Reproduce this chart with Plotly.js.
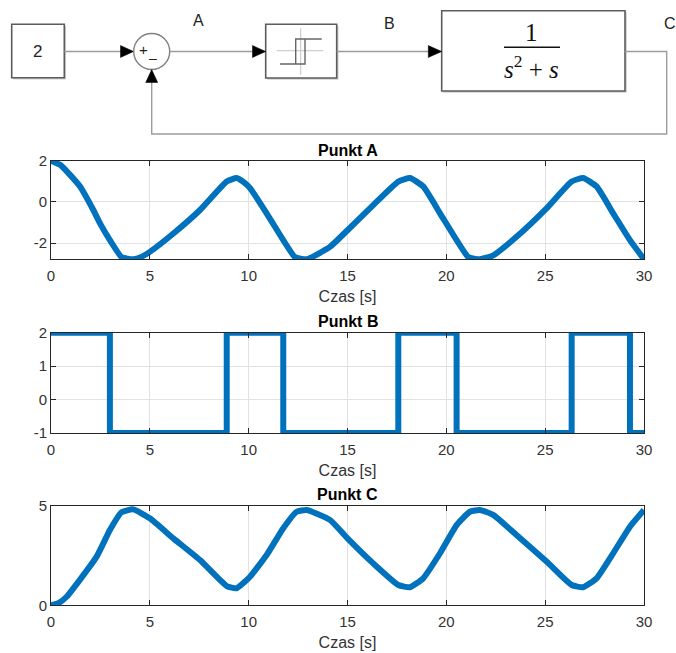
<!DOCTYPE html>
<html>
<head>
<meta charset="utf-8">
<script src="https://cdn.plot.ly/plotly-3.0.1.min.js"></script>
<style>
  html, body { margin: 0; padding: 0; background: #fff; }
  #chart { width: 676px; height: 653px; }
</style>
</head>
<body>
<div id="chart"></div>
<script>
// Simulation of a relay (hysteresis) loop with plant 1/(s^2+s); set-point 2.

// Punkt A: error signal
const timeA = [0, 0.46, 0.88, 1.47, 2.14, 2.48, 2.98, 3.57, 4.16, 4.6, 5.0, 6.19, 7.54, 8.89, 9.39, 9.81,
  10.07, 10.91, 11.75, 12.34, 12.93, 14.11, 15.0, 16.30, 17.57, 18.16, 18.83, 19.68, 20.52, 21.11, 21.70,
  22.37, 23.55, 25.07, 26.34, 26.92, 27.60, 28.44, 29.29, 30];
const valuesA = [2.0, 1.80, 1.40, 0.75, -0.39, -1.04, -1.85, -2.67, -2.78, -2.65, -2.42, -1.53, -0.39, 0.99, 1.16, 0.91,
  0.67, -0.55, -1.85, -2.67, -2.78, -2.18, -1.37, -0.15, 0.99, 1.16, 0.75, -0.55, -1.85, -2.67, -2.78,
  -2.59, -1.69, -0.31, 0.99, 1.16, 0.75, -0.55, -1.85, -2.78];

// Punkt B: relay output
const timeB = [0, 2.98, 2.98, 8.89, 8.89, 11.75, 11.75, 17.57, 17.57, 20.52, 20.52, 26.34, 26.34, 29.29, 29.29, 30];
const valuesB = [2, 2, -1, -1, 2, 2, -1, -1, 2, 2, -1, -1, 2, 2, -1, -1];

// Punkt C: plant output
const timeC = [0, 0.4, 0.79, 1.45, 2.31, 2.98, 3.56, 4.16, 5.0, 6.19, 7.54, 8.89, 9.39, 10.07, 10.91,
  11.75, 12.43, 12.93, 14.11, 15.0, 16.30, 17.57, 18.16, 18.83, 19.68, 20.52, 21.19, 21.70, 22.37,
  23.55, 25.07, 26.34, 26.92, 27.60, 28.44, 29.29, 30];
const valuesC = [0, 0.12, 0.43, 1.27, 2.45, 3.79, 4.68, 4.83, 4.38, 3.37, 2.28, 0.97, 0.86, 1.44, 2.53,
  3.88, 4.71, 4.80, 4.30, 3.37, 2.11, 1.02, 0.91, 1.36, 2.62, 4.04, 4.71, 4.80, 4.55,
  3.54, 2.20, 1.02, 0.91, 1.36, 2.62, 3.96, 4.80];

// Axis ticks
const xTicks = [0, 5, 10, 15, 20, 25, 30];
const yTicksA = [-2, 0, 2];
const yTicksB = [-1, 0, 1, 2];
const yTicksC = [0, 5];
const panelTitles = ['Punkt A', 'Punkt B', 'Punkt C'];
const xTitle = 'Czas [s]';

// ---- geometry helpers (pixel -> paper) ----
const W = 676, H = 653;
const px = x => x / W;
const py = y => 1 - y / H;

const FONT = 'Liberation Sans, Arial, Helvetica, sans-serif';
const SERIF = 'Liberation Serif, Times New Roman, serif';
const BLUE = '#0072BD';
const AXC = '#262626';

const labelTxt = v => String(v);   // plain hyphen for negatives

function xAxis(anchor) {
  return {
    anchor: anchor, domain: [px(51), px(644)], range: [0, 30],
    tickmode: 'array', tickvals: xTicks, ticktext: xTicks.map(labelTxt),
    ticks: 'inside', ticklen: 5, tickcolor: AXC, mirror: 'ticks',
    showline: true, linecolor: AXC, linewidth: 1,
    showgrid: true, gridcolor: '#e2e2e2', gridwidth: 1, zeroline: false,
    tickfont: { family: FONT, size: 15, color: '#333' }, ticklabelstandoff: 3,
    title: { text: xTitle, font: { family: FONT, size: 16, color: '#333' }, standoff: 7 },
    fixedrange: true
  };
}
function yAxis(anchor, top, bottom, range, ticks) {
  return {
    anchor: anchor, domain: [py(bottom), py(top)], range: range,
    tickmode: 'array', tickvals: ticks, ticktext: ticks.map(labelTxt),
    ticks: 'inside', ticklen: 5, tickcolor: AXC, mirror: 'ticks',
    showline: true, linecolor: AXC, linewidth: 1,
    showgrid: true, gridcolor: '#e2e2e2', gridwidth: 1, zeroline: false,
    tickfont: { family: FONT, size: 15, color: '#333' },
    fixedrange: true
  };
}

const smooth = { color: BLUE, width: 6, shape: 'spline', smoothing: 0.45 };
const steps = { color: BLUE, width: 6 };
const traces = [
  { x: timeA, y: valuesA, xaxis: 'x', yaxis: 'y', mode: 'lines', line: smooth, cliponaxis: false, hoverinfo: 'skip' },
  { x: timeB, y: valuesB, xaxis: 'x2', yaxis: 'y2', mode: 'lines', line: steps, cliponaxis: false, hoverinfo: 'skip' },
  { x: timeC, y: valuesC, xaxis: 'x3', yaxis: 'y3', mode: 'lines', line: smooth, cliponaxis: false, hoverinfo: 'skip' }
];

// ---- block diagram ----
const WIRE = '#9c9c9c';
const poly = pts => 'M' + pts.map(p => px(p[0]) + ',' + py(p[1])).join('L') + 'Z';
const openPath = segs => segs.map(seg => 'M' + seg.map(p => px(p[0]) + ',' + py(p[1])).join('L')).join(' ');
const rect = (x0, y0, x1, y1, fill, line, lw) => ({
  type: 'rect', xref: 'paper', yref: 'paper', x0: px(x0), x1: px(x1), y0: py(y1), y1: py(y0),
  fillcolor: fill, line: { color: line, width: lw }
});
const seg = (x0, y0, x1, y1, color, w) => ({
  type: 'line', xref: 'paper', yref: 'paper', x0: px(x0), y0: py(y0), x1: px(x1), y1: py(y1),
  line: { color: color, width: w }
});
const tri = pts => ({ type: 'path', xref: 'paper', yref: 'paper', path: poly(pts), fillcolor: '#000', line: { color: '#000', width: 0.5 } });
function block(x0, y0, x1, y1) {
  return [
    rect(x0 + 1.5, y0 + 1.5, x1 + 1.8, y1 + 1.8, '#cfcfcf', 'rgba(0,0,0,0)', 0),
    rect(x0, y0, x1, y1, '#ffffff', '#5c5c5c', 1.6)
  ];
}

const wy = 51.5;
const shapes = [].concat(
  block(11.7, 24.3, 64.3, 77.7),
  block(265.7, 24.3, 336.7, 78),
  block(441.7, 10.7, 625, 91),
  [
    seg(64.3, wy, 122, wy, WIRE, 1.4),
    tri([[133.6, wy], [120.5, wy - 6], [120.5, wy + 6]]),
    { type: 'circle', xref: 'paper', yref: 'paper', x0: px(133.7), x1: px(169.7), y0: py(69.5), y1: py(33.5),
      fillcolor: '#ffffff', line: { color: '#808080', width: 1.4 } },
    seg(169.7, wy, 253, wy, WIRE, 1.4),
    tri([[265.7, wy], [252.5, wy - 6], [252.5, wy + 6]]),
    // hysteresis icon
    seg(276.7, 50.7, 323.3, 50.7, '#c4c4c4', 1),
    seg(300.7, 28.3, 300.7, 75, '#c4c4c4', 1),
    { type: 'path', xref: 'paper', yref: 'paper', line: { color: '#666', width: 1.4 },
      path: openPath([[[280, 64], [305, 64], [305, 39], [321.7, 39]], [[295.7, 64], [295.7, 39], [305, 39]]]) },
    seg(336.7, wy, 429, wy, WIRE, 1.4),
    tri([[441.7, wy], [428.3, wy - 6], [428.3, wy + 6]]),
    // fraction bar of the transfer function
    seg(504, 47.3, 560, 47.3, '#111', 1.5),
    // feedback wire
    { type: 'path', xref: 'paper', yref: 'paper', line: { color: WIRE, width: 1.4 },
      path: openPath([[[625, wy], [666.7, wy], [666.7, 134], [151.7, 134], [151.7, 82]]]) },
    tri([[151.7, 69.6], [145.7, 82.5], [157.7, 82.5]])
  ]
);

const ann = (x, y, text, size, opts) => Object.assign({
  xref: 'paper', yref: 'paper', x: px(x), y: py(y), text: text, showarrow: false,
  xanchor: 'center', yanchor: 'middle', font: { family: FONT, size: size, color: '#222' }
}, opts || {});

const annotations = [
  ann(37.5, 51.5, '2', 17),
  ann(143.5, 50, '+', 15),
  ann(152.5, 57.5, '\u2013', 14),
  ann(198.3, 20, 'A', 16),
  ann(389.3, 24, 'B', 16),
  ann(670, 24, 'C', 16),
  ann(531.7, 32.5, '1', 25, { font: { family: SERIF, size: 25, color: '#111' } }),
  ann(531.7, 67, '<i>s</i><sup>2</sup> + <i>s</i>', 25, { font: { family: SERIF, size: 25, color: '#111' } }),
  // panel titles
  ann(347.5, 150.5, '<b>' + panelTitles[0] + '</b>', 16, { font: { family: FONT, size: 16, color: '#000' } }),
  ann(347.5, 321.5, '<b>' + panelTitles[1] + '</b>', 16, { font: { family: FONT, size: 16, color: '#000' } }),
  ann(347.5, 494.5, '<b>' + panelTitles[2] + '</b>', 16, { font: { family: FONT, size: 16, color: '#000' } })
];

const layout = {
  width: W, height: H,
  margin: { l: 0, r: 0, t: 0, b: 0, pad: 0 },
  paper_bgcolor: '#fff', plot_bgcolor: '#fff',
  showlegend: false,
  xaxis: xAxis('y'),
  yaxis: yAxis('x', 160.7, 259.3, [-2.78, 2.0], yTicksA),
  xaxis2: xAxis('y2'),
  yaxis2: yAxis('x2', 332.7, 433, [-1, 2], yTicksB),
  xaxis3: xAxis('y3'),
  yaxis3: yAxis('x3', 506, 605.3, [0, 5], yTicksC),
  shapes: shapes,
  annotations: annotations
};

Plotly.newPlot('chart', traces, layout, { displayModeBar: false, staticPlot: true });
</script>
</body>
</html>
